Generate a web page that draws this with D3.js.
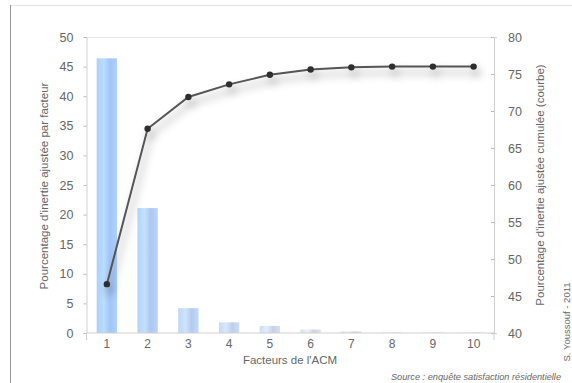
<!DOCTYPE html>
<html><head><meta charset="utf-8">
<script src="https://cdn.jsdelivr.net/npm/d3@7"></script>
<style>
html,body{margin:0;padding:0;background:#fff;}
text{font-family:"Liberation Sans",Arial,sans-serif;}
</style></head>
<body>
<svg id="chart" width="572" height="383"></svg>
<script>
const categories = ["1","2","3","4","5","6","7","8","9","10"];
const barValues = [46.4, 21.1, 4.2, 1.8, 1.2, 0.6, 0.3, 0.1, 0.1, 0.1];
const cumValues = [46.6, 67.6, 71.9, 73.6, 74.9, 75.6, 75.9, 76.0, 76.0, 76.0];
const leftTicks = [0,5,10,15,20,25,30,35,40,45,50];
const rightTicks = [40,45,50,55,60,65,70,75,80];

const svg = d3.select("#chart");
const M = {l:86.5, r:494, t:37, b:333};

const defs = svg.append("defs");
const f = defs.append("filter").attr("id","sh").attr("x","-10%").attr("y","-10%").attr("width","130%").attr("height","140%");
f.append("feDropShadow").attr("dx",3).attr("dy",6).attr("stdDeviation",4).attr("flood-color","#000").attr("flood-opacity",0.4);
const bf = defs.append("filter").attr("id","blur");
bf.append("feGaussianBlur").attr("stdDeviation",0.6);

// frame
svg.append("line").attr("x1",10).attr("x2",572).attr("y1",5.5).attr("y2",5.5).attr("stroke","#e2e2e2");
svg.append("line").attr("x1",10.5).attr("x2",10.5).attr("y1",5).attr("y2",383).attr("stroke","#9a9a9a");

const x = d3.scaleBand().domain(categories).range([M.l, M.r]).paddingInner(0.5).paddingOuter(0.25);
const yL = d3.scaleLinear().domain([0,50]).range([M.b, M.t]);
const yR = d3.scaleLinear().domain([40,80]).range([M.b, M.t]);

svg.append("line").attr("x1",M.l).attr("x2",M.r).attr("y1",M.t+0.5).attr("y2",M.t+0.5).attr("stroke","#e4e4e4");

const colInterp = d3.interpolateRgb("#a3c4f7", "#d8d8da");
barValues.forEach((v,i)=>{
  const t = Math.min(1, i/6);
  const c = d3.color(colInterp(t));
  const g = defs.append("linearGradient").attr("id","bg"+i).attr("x1","0").attr("x2","1").attr("y1","0").attr("y2","0");
  g.append("stop").attr("offset","0").attr("stop-color", c.brighter(0.15));
  g.append("stop").attr("offset","0.35").attr("stop-color", c.brighter(0.35));
  g.append("stop").attr("offset","0.65").attr("stop-color", c);
  g.append("stop").attr("offset","1").attr("stop-color", c.brighter(0.2));
});

svg.append("g").selectAll("rect").data(barValues).join("rect")
  .attr("x",(d,i)=>x(categories[i]))
  .attr("width",x.bandwidth())
  .attr("y",d=>yL(d))
  .attr("height",d=>M.b-yL(d))
  .attr("fill",(d,i)=>"url(#bg"+i+")")
  .attr("filter","url(#blur)");

const gray="#666";
const axL = svg.append("g").attr("transform",`translate(${M.l},0)`)
  .call(d3.axisLeft(yL).tickValues(leftTicks).tickSize(3).tickPadding(10));
const axR = svg.append("g").attr("transform",`translate(${M.r},0)`)
  .call(d3.axisRight(yR).tickValues(rightTicks).tickSize(3).tickPadding(11));
const axX = svg.append("g").attr("transform",`translate(0,${M.b})`)
  .call(d3.axisBottom(x).tickSize(0).tickPadding(6));
[axL,axR,axX].forEach(a=>{
  a.selectAll("path").attr("stroke","#cfcfcf");
  a.selectAll("line").attr("stroke","#bbb");
  a.selectAll("text").attr("fill",gray).attr("font-size",12.5).attr("font-family","Liberation Sans, Arial, sans-serif");
});
axX.selectAll("text").attr("font-size",12);
axX.select("path").attr("d",`M${M.l},7V0H${M.r}V7`);
axR.selectAll(".tick line").attr("x2",-3);
axR.selectAll(".tick text").attr("x",14);

svg.append("text").attr("transform",`translate(48,186) rotate(-90)`).attr("text-anchor","middle")
  .attr("fill",gray).attr("font-size",11.5).text("Pourcentage d'inertie ajustée par facteur");
svg.append("text").attr("transform",`translate(544,185) rotate(-90)`).attr("text-anchor","middle")
  .attr("fill",gray).attr("font-size",11.5).text("Pourcentage d'inertie ajustée cumulée (courbe)");
svg.append("text").attr("x",290).attr("y",364).attr("text-anchor","middle")
  .attr("fill",gray).attr("font-size",11.5).text("Facteurs de l'ACM");
svg.append("text").attr("x",561).attr("y",380).attr("text-anchor","end").attr("font-style","italic")
  .attr("fill",gray).attr("font-size",9.2).text("Source : enquête satisfaction résidentielle");
svg.append("text").attr("transform",`translate(570,322) rotate(-90)`).attr("text-anchor","middle")
  .attr("fill",gray).attr("font-size",9.5).text("S. Youssouf - 2011");

const cx = c=>x(c)+x.bandwidth()/2;
const lineG = svg.append("g").attr("filter","url(#sh)");
lineG.append("path").datum(cumValues)
  .attr("d", d3.line().x((d,i)=>cx(categories[i])).y(d=>yR(d)))
  .attr("fill","none").attr("stroke","#555").attr("stroke-width",2);
lineG.selectAll("circle").data(cumValues).join("circle")
  .attr("cx",(d,i)=>cx(categories[i])).attr("cy",d=>yR(d)).attr("r",3.2).attr("fill","#2e2e2e");
</script>
</body></html>
